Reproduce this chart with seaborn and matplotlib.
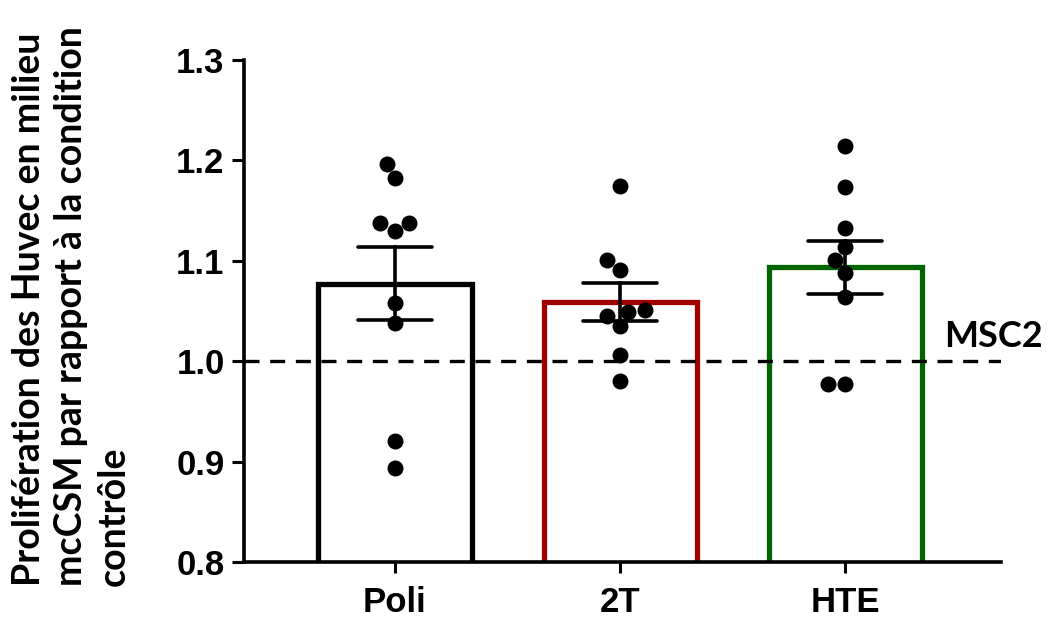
import numpy as np
import pandas as pd
import matplotlib
matplotlib.use("Agg")
import matplotlib.pyplot as plt
import seaborn as sns

categories = ["Poli", "2T", "HTE"]
poli_values = [1.196, 1.182, 1.138, 1.138, 1.130, 1.058, 1.038, 0.921, 0.894]
t2_values = [1.175, 1.101, 1.091, 1.049, 1.051, 1.045, 1.035, 1.006, 0.980]
hte_values = [1.214, 1.174, 1.133, 1.114, 1.101, 1.088, 1.064, 0.977, 0.977]
edge_colors = ["#000000", "#a00000", "#006400"]
y_ticks = [0.8, 0.9, 1.0, 1.1, 1.2, 1.3]
y_label = "Prolifération des Huvec en milieu\nmcCSM par rapport à la condition\ncontrôle"
ref_label = "MSC2"
ref_value = 1.0

df = pd.DataFrame({
    "group": np.repeat(categories, [len(poli_values), len(t2_values), len(hte_values)]),
    "value": poli_values + t2_values + hte_values,
})

sns.set_style("ticks")
plt.rcParams["font.family"] = ["Liberation Sans", "DejaVu Sans"]
plt.rcParams["text.color"] = "black"
plt.rcParams["xtick.color"] = "black"
plt.rcParams["ytick.color"] = "black"
plt.rcParams["xtick.labelcolor"] = "black"
plt.rcParams["ytick.labelcolor"] = "black"

fig = plt.figure(figsize=(10.55, 6.2), dpi=100)
ax = fig.add_axes([244 / 1055, 1 - 562 / 620, (1001 - 244) / 1055, (562 - 60) / 620])

sns.barplot(data=df, x="group", y="value", order=categories, hue="group",
            hue_order=categories, palette=edge_colors, fill=False, width=0.68,
            linewidth=3.8, errorbar="se", capsize=0.33,
            err_kws={"color": "black", "linewidth": 2.6}, legend=False, ax=ax)
for patch, col in zip(ax.patches, edge_colors):
    patch.set_edgecolor(col)
    patch.set_joinstyle("miter")

ax.axhline(ref_value, color="black", linewidth=2.4, dashes=(4.5, 3.2), zorder=1)

sns.swarmplot(data=df, x="group", y="value", order=categories, color="black",
              size=11.5, ax=ax, zorder=5)

ax.set_ylim(0.8, 1.3)
ax.set_xlim(-0.671, 2.693)
ax.set_yticks(y_ticks)
ax.set_yticklabels([f"{v:.1f}" for v in y_ticks])
ax.set_xlabel("")
ax.set_ylabel("")

for s in ["top", "right"]:
    ax.spines[s].set_visible(False)
for s in ["left", "bottom"]:
    ax.spines[s].set_linewidth(2.6)
    ax.spines[s].set_color("black")

ax.tick_params(axis="y", length=9, width=2.2, pad=5, labelsize=25, colors="black")
ax.tick_params(axis="x", length=8, width=2.2, pad=9, labelsize=25, colors="black")
for lab in ax.get_yticklabels() + ax.get_xticklabels():
    lab.set_fontweight("bold")

ax.text(2.44, 1.025, ref_label, fontsize=26, fontweight="bold", color="black",
        family=["Lato", "DejaVu Sans"], ha="left", va="center")

fig.text(12 / 1055, 1 - 586 / 620, y_label, rotation=90, ha="left", va="bottom",
         multialignment="left", fontsize=27, fontweight="bold", color="black",
         family=["Lato", "DejaVu Sans"], linespacing=1.3)

fig.savefig("out.png", dpi=100)
